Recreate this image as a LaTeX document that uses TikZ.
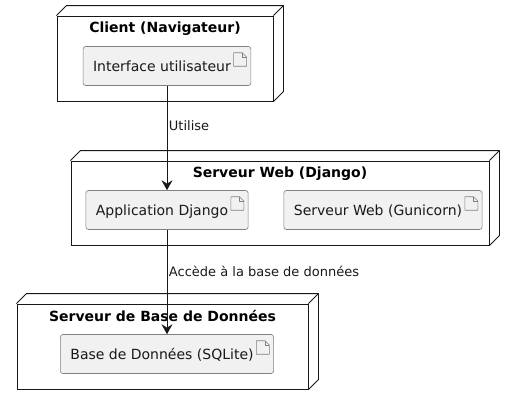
\documentclass[tikz,border=0pt]{standalone}
\usepackage{fontspec}
\setmainfont{DejaVu Sans}
\usetikzlibrary{arrows.meta, positioning, calc}
\definecolor{figline}{HTML}{181818}
\definecolor{figfill}{HTML}{F1F1F1}
\tikzset{
  hostbox/.style={draw=figline, line width=0.9pt, fill=white, inner sep=0pt},
  hostdepth/.style={draw=figline, line width=0.9pt, line join=round},
  hosttitle/.style={font=\fontsize{14}{16}\selectfont\bfseries, text=black, inner sep=0pt},
  artbox/.style={draw=black!50, line width=0.6pt, rounded corners=2.5pt, fill=figfill,
    inner xsep=10pt, inner ysep=0pt, minimum height=39pt, text=black!90,
    font=\fontsize{14}{16}\selectfont, text height=14.5pt, text depth=3pt,
    execute at end node={\hspace{10pt}}},
  articon/.style={draw=black!50, line width=0.6pt, line join=round},
  figarrow/.style={-{Stealth[length=10pt, width=11pt, inset=3.5pt]}, line width=0.9pt, draw=figline},
  figlabel/.style={font=\fontsize{13}{15}\selectfont, text=black!90, right, inner sep=1.5pt},
}

\begin{document}
\begin{tikzpicture}[x=1pt, y=-1pt]
  \useasboundingbox (0,0) rectangle (515,405);
  % hosts
  \node[hostbox, minimum width=216pt, minimum height=85pt] (client) at (165,58.5) {};
  \node[hostbox, minimum width=418pt, minimum height=84pt] (web) at (280,203) {};
  \node[hostbox, minimum width=291pt, minimum height=85pt] (db) at (162.5,346.5) {};
  \foreach \n in {client,web,db} {
    \draw[hostdepth] (\n.north west) -- ++(10,-10) -| ($(\n.south east)+(10,-10)$) -- (\n.south east);
    \draw[hostdepth] (\n.north east) -- ++(10,-10);
  }
  \node[hosttitle, below=6.5pt of client.north] (clienttitle) {Client (Navigateur)};
  \node[hosttitle, below=6pt of web.north] (webtitle) {Serveur Web (Django)};
  \node[hosttitle, below=7pt of db.north] (dbtitle) {Serveur de Base de Données};
  % artifacts
  \node[artbox] (iface) at (167,66) {Interface utilisateur};
  \node[artbox] (app) at (167,210) {Application Django};
  \node[artbox] (gunicorn) at (383,210) {Serveur Web (Gunicorn)};
  \node[artbox] (sqlite) at (167,354) {Base de Données (SQLite)};
  \foreach \a in {iface,app,gunicorn,sqlite} {
    \draw[articon] ($(\a.north east)+(-17.5,6.5)$) -- ++(8.5,0) -- ++(4.5,4.5) -- ++(0,9) -- ++(-13,0) -- cycle;
    \draw[articon] ($(\a.north east)+(-9,6.5)$) -- ++(0,4.5) -- ++(4.5,0);
  }
  % links
  \draw[figarrow] (iface) -- (app) node[pos=0.38, figlabel] (uselabel) {Utilise};
  \draw[figarrow] (app) -- (sqlite) node[pos=0.4, figlabel] (dblabel) {Accède à la base de données};
\end{tikzpicture}
\end{document}
